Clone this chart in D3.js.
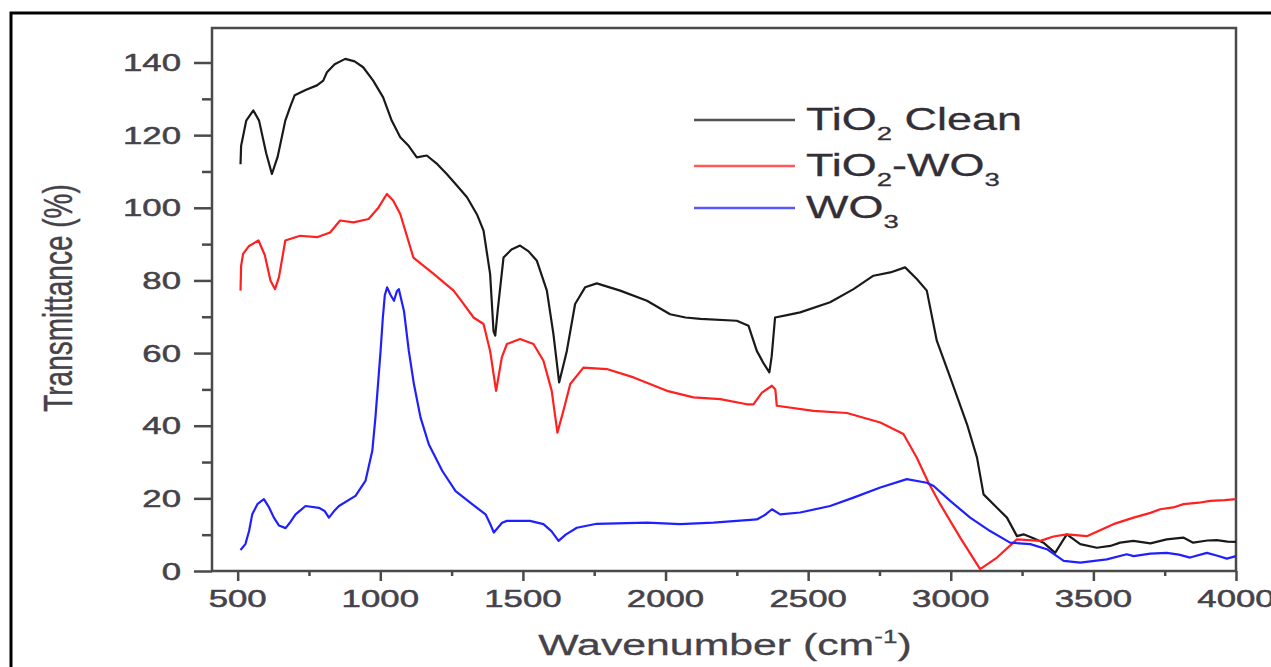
<!DOCTYPE html>
<html>
<head>
<meta charset="utf-8">
<script src="https://cdn.jsdelivr.net/npm/d3@7"></script>
<style>
  html, body { margin: 0; padding: 0; background: #fff; }
  svg { display: block; }
  text { font-family: "Liberation Sans", Arial, sans-serif; }
</style>
</head>
<body>
<svg id="chart" width="1271" height="667"></svg>
<script>
// ---------- data (wavenumber cm-1, transmittance %) ----------
const tio2Clean = [[510,112],[512,117],[530,124],[555,126.8],[575,124],[600,115],[620,109.3],[640,114],[667,124],[685,128],[700,131],[740,132.5],[778,133.7],[800,135],[813,137.3],[840,139.5],[877,141],[910,140.3],[940,138.7],[975,135],[1010,130.4],[1040,124],[1070,119.4],[1100,117],[1128,113.9],[1163,114.4],[1200,112],[1233,109.3],[1270,106],[1304,102.9],[1340,98],[1362,93.7],[1385,81.8],[1397,66],[1403,64.8],[1412,72],[1432,86.3],[1460,88.5],[1490,89.6],[1520,88],[1549,85.4],[1584,77.2],[1607,65.2],[1627,51.9],[1640,56],[1654,60.6],[1683,73.5],[1718,78.1],[1759,79.2],[1841,77.2],[1935,74.4],[2016,70.7],[2070,69.8],[2122,69.4],[2250,68.9],[2291,67.5],[2320,60.6],[2345,57],[2364,54.7],[2372,59],[2384,69.8],[2430,70.5],[2472,71.2],[2577,74.0],[2659,77.6],[2729,81.3],[2788,82.2],[2840,83.6],[2881,80.4],[2916,77.2],[2951,63.4],[2998,53.3],[3057,40.4],[3092,31.2],[3115,21.1],[3162,17.4],[3197,14.7],[3232,9.6],[3255,10.1],[3290,9],[3325,7.8],[3366,5.0],[3390,8],[3407,10.1],[3454,7.4],[3512,6.4],[3559,6.9],[3594,7.8],[3640,8.3],[3700,7.6],[3757,8.7],[3815,9.2],[3850,7.8],[3900,8.4],[3933,8.5],[3970,8.1],[4000,8.0]];

const tio2Wo3 = [[510,77.2],[512,84],[519,87.3],[540,89.5],[573,91],[595,87],[615,80],[631,77.6],[645,81],[667,91],[719,92.3],[778,91.9],[824,93.2],[859,96.5],[906,96],[959,96.9],[994,100.1],[1023,103.8],[1045,102],[1070,98.3],[1116,86.3],[1187,81.8],[1257,77.2],[1279,74.9],[1327,69.8],[1362,68],[1385,60.6],[1406,49.6],[1426,58.8],[1444,62.5],[1490,63.9],[1537,62.5],[1572,57.9],[1601,49.6],[1621,38.1],[1642,44.1],[1666,51.5],[1712,56],[1794,55.6],[1888,53.3],[2005,49.6],[2098,47.8],[2192,47.3],[2285,45.9],[2308,45.9],[2338,49.1],[2373,51],[2385,50],[2390,45.5],[2519,44.1],[2636,43.5],[2753,40.9],[2834,37.7],[2881,31.2],[2922,24.3],[2963,18.4],[3033,9.2],[3103,0.5],[3162,3.7],[3232,8.7],[3314,8.3],[3360,9.5],[3407,10.1],[3477,9.6],[3570,12.9],[3641,14.7],[3700,16],[3734,17],[3780,17.5],[3816,18.4],[3870,18.8],[3910,19.3],[3960,19.5],[4000,19.8]];

const wo3 = [[510,5.8],[527,7.4],[540,11],[551,15.6],[570,18.5],[592,19.8],[610,17.5],[627,14.7],[645,12.5],[668,11.8],[685,13.5],[703,15.6],[738,17.9],[785,17.4],[805,16.5],[820,14.7],[838,16.5],[855,17.9],[913,20.7],[948,24.8],[972,33.1],[983,42.3],[992,51.4],[1001,60.6],[1009,69.8],[1016,76],[1024,78.1],[1036,76],[1048,74.4],[1058,77],[1065,77.6],[1083,71.6],[1100,60.6],[1118,51.4],[1141,42.3],[1170,34.9],[1217,27.6],[1264,22],[1322,18.4],[1369,15.6],[1385,13],[1398,10.6],[1427,13.3],[1444,13.8],[1525,13.8],[1572,12.9],[1600,11],[1625,8.3],[1650,10],[1689,11.9],[1759,13],[1935,13.3],[2051,12.9],[2168,13.3],[2320,14.2],[2350,15.5],[2373,17],[2402,15.6],[2472,16.1],[2577,17.9],[2659,20.2],[2753,23],[2846,25.3],[2916,24.3],[2940,23.4],[2998,19.3],[3068,14.7],[3138,11],[3208,7.8],[3279,7.4],[3337,6],[3396,2.8],[3454,2.3],[3547,3.2],[3617,4.6],[3641,4.1],[3700,4.8],[3757,5],[3800,4.5],[3839,3.7],[3898,5],[3935,4.2],[3968,3.4],[4000,4.1]];

const xTicks = [500, 1000, 1500, 2000, 2500, 3000, 3500, 4000];
const xMinorTicks = [750, 1250, 1750, 2250, 2750, 3250, 3750];
const yTicks = [0, 20, 40, 60, 80, 100, 120, 140];
const yMinorTicks = [10, 30, 50, 70, 90, 110, 130];

const seriesNames = ["TiO2 Clean", "TiO2-WO3", "WO3"];
const seriesColors = ["#1a1a1a", "#ff2020", "#2020ff"];
const seriesData = [tio2Clean, tio2Wo3, wo3];

// ---------- layout ----------
const svg = d3.select("#chart");
const L = 212, R = 1236, T = 28, B = 571;
const SX = 1.45; // horizontal stretch of the original image text
const x = d3.scaleLinear().domain([410, 4000]).range([L, R]);
const y = d3.scaleLinear().domain([0, 149.5]).range([B, T]);
const textColor = "#45424a";

// outer frame (partially visible)
svg.append("path")
  .attr("d", "M11,667 L11,13 L1271,13")
  .attr("fill", "none").attr("stroke", "#000").attr("stroke-width", 3);

// plot frame
svg.append("rect")
  .attr("x", L).attr("y", T).attr("width", R - L).attr("height", B - T)
  .attr("fill", "none").attr("stroke", "#4a4a4a").attr("stroke-width", 2.5);

// curves
const line = d3.line().x(d => x(d[0])).y(d => y(d[1]));
seriesData.forEach((data, i) => {
  svg.append("path").datum(data)
    .attr("d", line)
    .attr("fill", "none")
    .attr("stroke", seriesColors[i])
    .attr("stroke-width", 2.2)
    .attr("stroke-linejoin", "round");
});

// axes ticks via d3 axes
const xAxis = svg.append("g").attr("transform", `translate(0,${B})`)
  .call(d3.axisBottom(x).tickValues(xTicks).tickSize(10).tickFormat(""));
const xMinor = svg.append("g").attr("transform", `translate(0,${B})`)
  .call(d3.axisBottom(x).tickValues(xMinorTicks).tickSize(5).tickFormat(""));
const yAxis = svg.append("g").attr("transform", `translate(${L},0)`)
  .call(d3.axisLeft(y).tickValues(yTicks).tickSize(18).tickFormat(""));
const yMinor = svg.append("g").attr("transform", `translate(${L},0)`)
  .call(d3.axisLeft(y).tickValues(yMinorTicks).tickSize(10).tickFormat(""));
[xAxis, xMinor, yAxis, yMinor].forEach(g => {
  g.select(".domain").remove();
  g.selectAll(".tick line").attr("stroke", "#4a4a4a").attr("stroke-width", 2.5);
});

// tick labels (stretched text)
xTicks.forEach(v => {
  svg.append("text")
    .attr("transform", `translate(${x(v)},607) scale(${SX},1)`)
    .attr("text-anchor", "middle")
    .attr("font-size", 24).attr("fill", textColor)
    .attr("stroke", textColor).attr("stroke-width", 0.5)
    .text(v);
});
yTicks.forEach(v => {
  svg.append("text")
    .attr("transform", `translate(181,${y(v) + 8.5}) scale(${SX},1)`)
    .attr("text-anchor", "end")
    .attr("font-size", 24).attr("fill", textColor)
    .attr("stroke", textColor).attr("stroke-width", 0.5)
    .text(v);
});

// axis titles
const xt = svg.append("text")
  .attr("transform", `translate(725,655) scale(${SX},1)`)
  .attr("text-anchor", "middle").attr("font-size", 29.5).attr("fill", textColor)
  .attr("stroke", textColor).attr("stroke-width", 0.3);
xt.append("tspan").text("Wavenumber (cm");
xt.append("tspan").attr("font-size", 18).attr("dy", -12).text("-1");
xt.append("tspan").attr("dy", 12).text(")");

svg.append("text")
  .attr("transform", `translate(72,298) scale(${SX},1) rotate(-90)`)
  .attr("text-anchor", "middle").attr("font-size", 28).attr("fill", textColor)
  .attr("stroke", textColor).attr("stroke-width", 0.3)
  .text("Transmittance (%)");

// legend
const legendParts = [
  [["TiO", 0], ["2", 1], [" Clean", 0]],
  [["TiO", 0], ["2", 1], ["-WO", 0], ["3", 1]],
  [["WO", 0], ["3", 1]]
];
const legendBase = [130, 176, 218];
seriesNames.forEach((name, i) => {
  const ly = legendBase[i] - 10;
  svg.append("line")
    .attr("x1", 694).attr("x2", 795).attr("y1", ly).attr("y2", ly)
    .attr("stroke", seriesColors[i]).attr("stroke-width", 2.5).attr("stroke-opacity", 0.75);
  const t = svg.append("text")
    .attr("transform", `translate(806,${legendBase[i]}) scale(${SX},1)`)
    .attr("font-size", 31).attr("fill", "#332f36")
    .attr("stroke", "#332f36").attr("stroke-width", 0.3);
  let shifted = false;
  legendParts[i].forEach(([s, sub]) => {
    const ts = t.append("tspan").text(s);
    if (sub) { ts.attr("font-size", 19).attr("dy", 10); shifted = true; }
    else if (shifted) { ts.attr("dy", -10); shifted = false; }
  });
});
</script>
</body>
</html>
